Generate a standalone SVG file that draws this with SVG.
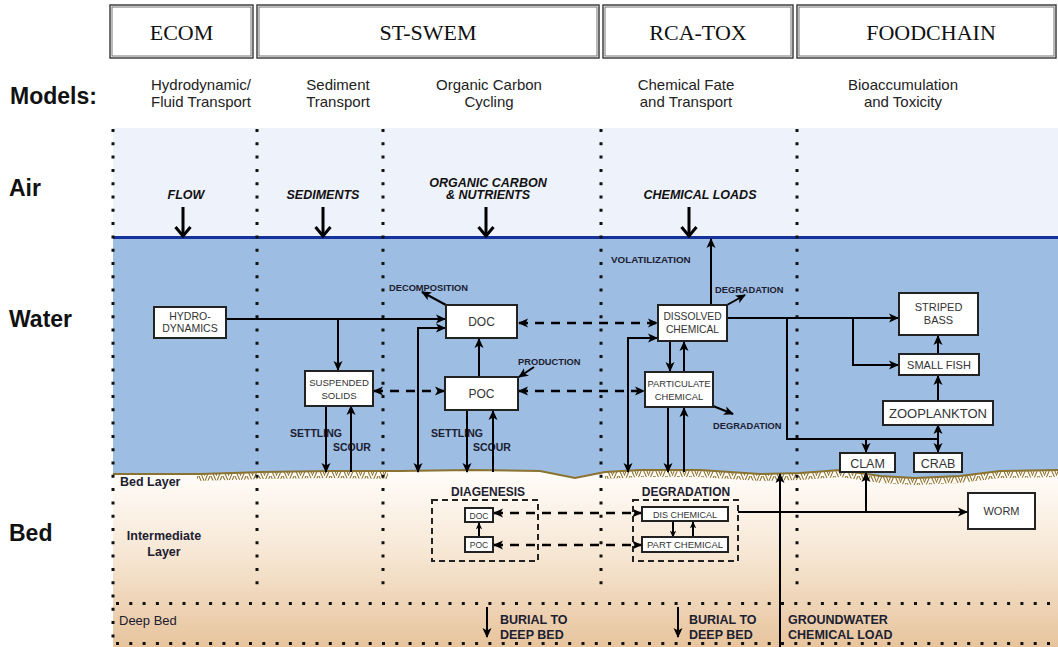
<svg xmlns="http://www.w3.org/2000/svg" width="1058" height="647" viewBox="0 0 1058 647">
<defs>
<linearGradient id="bedg" x1="0" y1="0" x2="0" y2="1">
<stop offset="0" stop-color="#fffdfa"/>
<stop offset="0.45" stop-color="#f7e8d6"/>
<stop offset="1" stop-color="#e7c49d"/>
</linearGradient>
<pattern id="hatch" width="12" height="7" patternUnits="userSpaceOnUse">
<path d="M0,7 L3,0 M3,7 L6,0 M7,0 L10,7 M10,0 L13,7" stroke="#8f7535" stroke-width="1.1" fill="none"/>
</pattern>
<marker id="ah" viewBox="0 0 10 10" markerWidth="10" markerHeight="10" refX="9" refY="5" orient="auto-start-reverse" markerUnits="userSpaceOnUse">
<path d="M0,0.5 L10,5 L0,9.5 L2.5,5 z" fill="#000" stroke="none"/>
</marker>
<marker id="ahs" viewBox="0 0 10 10" markerWidth="7" markerHeight="7" refX="9" refY="5" orient="auto-start-reverse" markerUnits="userSpaceOnUse">
<path d="M0,0.5 L10,5 L0,9.5 L2.5,5 z" fill="#000" stroke="none"/>
</marker>
<marker id="chev" viewBox="0 0 12 18" markerWidth="12" markerHeight="18" refX="10" refY="9" orient="auto" markerUnits="userSpaceOnUse">
<path d="M1,1.5 L10,9 L1,16.5" fill="none" stroke="#000" stroke-width="3"/>
</marker>
</defs>
<style>
.hdr{fill:#fff;stroke:#333;stroke-width:1.4}
.hdri{fill:none;stroke:#666;stroke-width:0.9}
.ht{font-family:"Liberation Serif",serif;font-size:22px;fill:#111;text-anchor:middle}
.row{font-family:"Liberation Sans",Arial,sans-serif;font-size:23px;font-weight:bold;fill:#111}
.sub{font-family:"Liberation Sans",Arial,sans-serif;font-size:15px;fill:#222;text-anchor:middle}
.load{font-family:"Liberation Sans",Arial,sans-serif;font-size:12.5px;font-weight:bold;font-style:italic;fill:#111;text-anchor:middle}
.dot{stroke:#111;stroke-width:3;stroke-dasharray:3 10.3;fill:none}
.box{fill:#fff;stroke:#222;stroke-width:2}
.bt{font-family:"Liberation Sans",Arial,sans-serif;fill:#333;text-anchor:middle}
.lb{font-family:"Liberation Sans",Arial,sans-serif;font-weight:bold;fill:#1c2030}
.ln{fill:none;stroke:#000;stroke-width:2}
.dl{fill:none;stroke:#000;stroke-width:2.5;stroke-dasharray:9 7}
.db{fill:none;stroke:#222;stroke-width:2;stroke-dasharray:6 4}
.air{fill:none;stroke:#000;stroke-width:3}
</style>

<!-- backgrounds -->
<rect x="113" y="128" width="945" height="110" fill="#eef2fb"/>
<rect x="113" y="238" width="945" height="245" fill="#9dbde3"/>
<path d="M113,474 L200,474 L260,472 L330,471 L400,471 L470,470 L540,471 L575,478 L605,472 L640,470 L700,470 L760,474 L800,473 L840,470 L880,476 L915,478 L960,476 L1000,471 L1058,470 L1058,647 L113,647 Z" fill="url(#bedg)"/>
<path d="M197,474 L260,472 L330,471 L388,471 L388,479 L330,478 L260,479 L197,481 Z" fill="url(#hatch)"/>
<path d="M605,472 L640,470 L700,470 L760,474 L800,473 L840,470 L880,476 L915,478 L960,476 L1000,471 L1058,470 L1058,477 L1000,478 L960,483 L915,485 L880,483 L840,477 L800,480 L760,481 L700,477 L640,477 L605,479 Z" fill="url(#hatch)"/>
<path d="M113,474 L200,474 L260,472 L330,471 L400,471 L470,470 L540,471 L575,478 L605,472 L640,470 L700,470 L760,474 L800,473 L840,470 L880,476 L915,478 L960,476 L1000,471 L1058,470" fill="none" stroke="#8a7230" stroke-width="2"/>
<line x1="113" y1="237.5" x2="1058" y2="237.5" stroke="#14329a" stroke-width="3"/>

<!-- dotted grid -->
<g id="grid">
<line class="dot" x1="113" y1="129" x2="113" y2="647"/>
<line class="dot" x1="257" y1="129" x2="257" y2="592"/>
<line class="dot" x1="383" y1="129" x2="383" y2="592"/>
<line class="dot" x1="601" y1="129" x2="601" y2="592"/>
<line class="dot" x1="797" y1="129" x2="797" y2="592"/>
<line class="dot" x1="116" y1="603.5" x2="1058" y2="603.5"/>
<line class="dot" x1="116" y1="643.5" x2="1058" y2="643.5"/>
</g>

<!-- headers -->
<g id="hdr-ecom"><rect class="hdr" x="110" y="5" width="143" height="53"/><rect class="hdri" x="112" y="7" width="139" height="49"/><text class="ht" x="181.5" y="40">ECOM</text></g>
<g id="hdr-stswem"><rect class="hdr" x="257" y="5" width="342" height="53"/><rect class="hdri" x="259" y="7" width="338" height="49"/><text class="ht" x="428" y="40">ST-SWEM</text></g>
<g id="hdr-rcatox"><rect class="hdr" x="603" y="5" width="190" height="53"/><rect class="hdri" x="605" y="7" width="186" height="49"/><text class="ht" x="698" y="40">RCA-TOX</text></g>
<g id="hdr-foodchain"><rect class="hdr" x="797" y="5" width="259" height="53"/><rect class="hdri" x="799" y="7" width="255" height="49"/><text class="ht" x="931" y="40">FOODCHAIN</text></g>

<!-- row labels -->
<text class="row" x="10" y="104">Models:</text>
<text class="row" x="9" y="196">Air</text>
<text class="row" x="9" y="327">Water</text>
<text class="row" x="9" y="541">Bed</text>

<g id="subtitles">
<text class="sub" x="201" y="90">Hydrodynamic/</text><text class="sub" x="201" y="107">Fluid Transport</text>
<text class="sub" x="338" y="90">Sediment</text><text class="sub" x="338" y="107">Transport</text>
<text class="sub" x="489" y="90">Organic Carbon</text><text class="sub" x="489" y="107">Cycling</text>
<text class="sub" x="686" y="90">Chemical Fate</text><text class="sub" x="686" y="107">and Transport</text>
<text class="sub" x="903" y="90">Bioaccumulation</text><text class="sub" x="903" y="107">and Toxicity</text>
</g>

<g id="loads">
<text class="load" x="186" y="199">FLOW</text>
<text class="load" x="323" y="199">SEDIMENTS</text>
<text class="load" x="488" y="187">ORGANIC CARBON</text>
<text class="load" x="488" y="199">&amp; NUTRIENTS</text>
<text class="load" x="700" y="199">CHEMICAL LOADS</text>
</g>

<!-- layer labels -->
<text class="lb" x="120" y="486" font-size="12.5">Bed Layer</text>
<text class="lb" x="164" y="540" font-size="12.5" text-anchor="middle">Intermediate</text>
<text class="lb" x="164" y="556" font-size="12.5" text-anchor="middle">Layer</text>
<text x="119" y="625" font-family="Liberation Sans,Arial,sans-serif" font-size="13" fill="#1c2030">Deep Bed</text>

<!-- process labels -->
<g id="labels">
<text class="lb" x="389" y="291" font-size="9.3">DECOMPOSITION</text>
<text class="lb" x="518" y="365" font-size="9.3">PRODUCTION</text>
<text class="lb" x="611" y="263" font-size="9.8">VOLATILIZATION</text>
<text class="lb" x="715" y="293" font-size="9.3">DEGRADATION</text>
<text class="lb" x="713" y="429" font-size="9.3">DEGRADATION</text>
<text class="lb" x="290" y="437" font-size="10.5">SETTLING</text>
<text class="lb" x="333" y="451" font-size="10.5">SCOUR</text>
<text class="lb" x="431" y="437" font-size="10.5">SETTLING</text>
<text class="lb" x="473" y="451" font-size="10.5">SCOUR</text>
<text class="lb" x="488" y="496" font-size="12" text-anchor="middle">DIAGENESIS</text>
<text class="lb" x="686" y="496" font-size="12" text-anchor="middle">DEGRADATION</text>
<text class="lb" x="500" y="624" font-size="12.5">BURIAL TO</text>
<text class="lb" x="500" y="639" font-size="12.5">DEEP BED</text>
<text class="lb" x="689" y="624" font-size="12.5">BURIAL TO</text>
<text class="lb" x="689" y="639" font-size="12.5">DEEP BED</text>
<text class="lb" x="788" y="624" font-size="12.5">GROUNDWATER</text>
<text class="lb" x="788" y="639" font-size="12.5">CHEMICAL LOAD</text>
</g>

<!-- connectors -->
<g id="connectors">
<path class="air" d="M183,207 V236" marker-end="url(#chev)"/>
<path class="air" d="M323,207 V236" marker-end="url(#chev)"/>
<path class="air" d="M486,207 V236" marker-end="url(#chev)"/>
<path class="air" d="M689,207 V236" marker-end="url(#chev)"/>

<path class="ln" d="M226,319 H445" marker-end="url(#ah)"/>
<path class="ln" d="M338,319 V370" marker-end="url(#ah)"/>
<path class="dl" d="M519,323 H657" marker-start="url(#ah)" marker-end="url(#ah)"/>
<path class="dl" d="M374,391 H444" marker-start="url(#ah)" marker-end="url(#ah)"/>
<path class="dl" d="M519,391 H644" marker-start="url(#ah)" marker-end="url(#ah)"/>
<path class="ln" d="M418,472 V328 H445" marker-start="url(#ah)" marker-end="url(#ah)"/>
<path class="ln" d="M479,377 V339" marker-end="url(#ah)"/>
<path class="ln" d="M446,305 L422,292" marker-end="url(#ah)"/>
<path class="ln" d="M534,367 L519,377" marker-end="url(#ah)"/>
<path class="ln" d="M326,406 V472" marker-end="url(#ah)"/>
<path class="ln" d="M351,472 V406" marker-end="url(#ah)"/>
<path class="ln" d="M467,411 V472" marker-end="url(#ah)"/>
<path class="ln" d="M493,472 V411" marker-end="url(#ah)"/>
<path class="ln" d="M628,472 V338 H657" marker-start="url(#ah)" marker-end="url(#ah)"/>
<path class="ln" d="M711,305 V239" marker-end="url(#ah)"/>
<path class="ln" d="M727,305 L745,295" marker-end="url(#ah)"/>
<path class="ln" d="M670,341 V371" marker-end="url(#ah)"/>
<path class="ln" d="M684,371 V342" marker-end="url(#ah)"/>
<path class="ln" d="M713,406 L733,414" marker-end="url(#ah)"/>
<path class="ln" d="M668,407 V472" marker-end="url(#ah)"/>
<path class="ln" d="M684,472 V408" marker-end="url(#ah)"/>
<path class="ln" d="M727,318 H898" marker-end="url(#ah)"/>
<path class="ln" d="M853,318 V365 H898" marker-end="url(#ah)"/>
<path class="ln" d="M787,318 V439 H938"/>
<path class="ln" d="M866,439 V452" marker-end="url(#ah)"/>
<path class="ln" d="M938,439 V452" marker-end="url(#ah)"/>
<path class="ln" d="M938,439 V425" marker-end="url(#ah)"/>
<path class="ln" d="M938,401 V376" marker-end="url(#ah)"/>
<path class="ln" d="M938,354 V336" marker-end="url(#ah)"/>

<path class="dl" d="M494,513 H641" marker-start="url(#ah)" marker-end="url(#ah)"/>
<path class="dl" d="M494,545 H641" marker-start="url(#ah)" marker-end="url(#ah)"/>
<path class="ln" d="M479,537 V523" marker-end="url(#ahs)"/>
<path class="ln" d="M673,521 V537" marker-end="url(#ahs)"/>
<path class="ln" d="M693,537 V522" marker-end="url(#ahs)"/>
<path class="ln" d="M738,512 H967" marker-end="url(#ah)"/>
<path class="ln" d="M866,512 V473" marker-end="url(#ah)"/>
<path class="ln" d="M780,647 V474" marker-end="url(#ah)"/>
<path class="ln" d="M487,607 V637" marker-end="url(#ah)"/>
<path class="ln" d="M678,607 V637" marker-end="url(#ah)"/>
</g>

<!-- nodes -->
<g id="hydrodynamics"><rect class="box" x="154" y="307" width="72" height="31"/><text class="bt" x="190" y="320" font-size="10.5">HYDRO-</text><text class="bt" x="190" y="332" font-size="10.5">DYNAMICS</text></g>
<g id="doc"><rect class="box" x="446" y="305" width="71" height="33"/><text class="bt" x="481.5" y="326" font-size="12">DOC</text></g>
<g id="poc"><rect class="box" x="445" y="377" width="73" height="33"/><text class="bt" x="481.5" y="398" font-size="12">POC</text></g>
<g id="suspended-solids"><rect class="box" x="305" y="371" width="68" height="35"/><text class="bt" x="339" y="386" font-size="9.6">SUSPENDED</text><text class="bt" x="339" y="399" font-size="9.6">SOLIDS</text></g>
<g id="dissolved-chemical"><rect class="box" x="658" y="305" width="69" height="36"/><text class="bt" x="692.5" y="320" font-size="10.3">DISSOLVED</text><text class="bt" x="692.5" y="333" font-size="10.3">CHEMICAL</text></g>
<g id="particulate-chemical"><rect class="box" x="645" y="372" width="68" height="35"/><text class="bt" x="679" y="387" font-size="9.4">PARTICULATE</text><text class="bt" x="679" y="400" font-size="9.4">CHEMICAL</text></g>
<g id="striped-bass"><rect class="box" x="899" y="293" width="79" height="42"/><text class="bt" x="938.5" y="311" font-size="11">STRIPED</text><text class="bt" x="938.5" y="324" font-size="11">BASS</text></g>
<g id="small-fish"><rect class="box" x="899" y="354" width="80" height="21"/><text class="bt" x="939" y="368.5" font-size="11">SMALL FISH</text></g>
<g id="zooplankton"><rect class="box" x="883" y="401" width="110" height="24"/><text class="bt" x="938" y="418" font-size="13">ZOOPLANKTON</text></g>
<g id="clam"><rect class="box" x="840" y="453" width="55" height="19"/><text class="bt" x="867.5" y="467.5" font-size="12.5">CLAM</text></g>
<g id="crab"><rect class="box" x="914" y="453" width="48" height="19"/><text class="bt" x="938" y="467.5" font-size="12.5">CRAB</text></g>
<g id="worm"><rect class="box" x="968" y="493" width="67" height="36"/><text class="bt" x="1001.5" y="515" font-size="11">WORM</text></g>

<g id="diagenesis"><rect class="db" x="432" y="500" width="106" height="61"/></g>
<g id="bed-doc"><rect class="box" x="465" y="508" width="28" height="14"/><text class="bt" x="479" y="518.5" font-size="8.5">DOC</text></g>
<g id="bed-poc"><rect class="box" x="465" y="537" width="28" height="15"/><text class="bt" x="479" y="548" font-size="8.5">POC</text></g>
<g id="degradation-bed"><rect class="db" x="633" y="500" width="105" height="61"/></g>
<g id="dis-chemical"><rect class="box" x="642" y="507" width="86" height="14"/><text class="bt" x="685" y="517.5" font-size="9">DIS CHEMICAL</text></g>
<g id="part-chemical"><rect class="box" x="642" y="537" width="86" height="15"/><text class="bt" x="685" y="548" font-size="9.5">PART CHEMICAL</text></g>
</svg>
